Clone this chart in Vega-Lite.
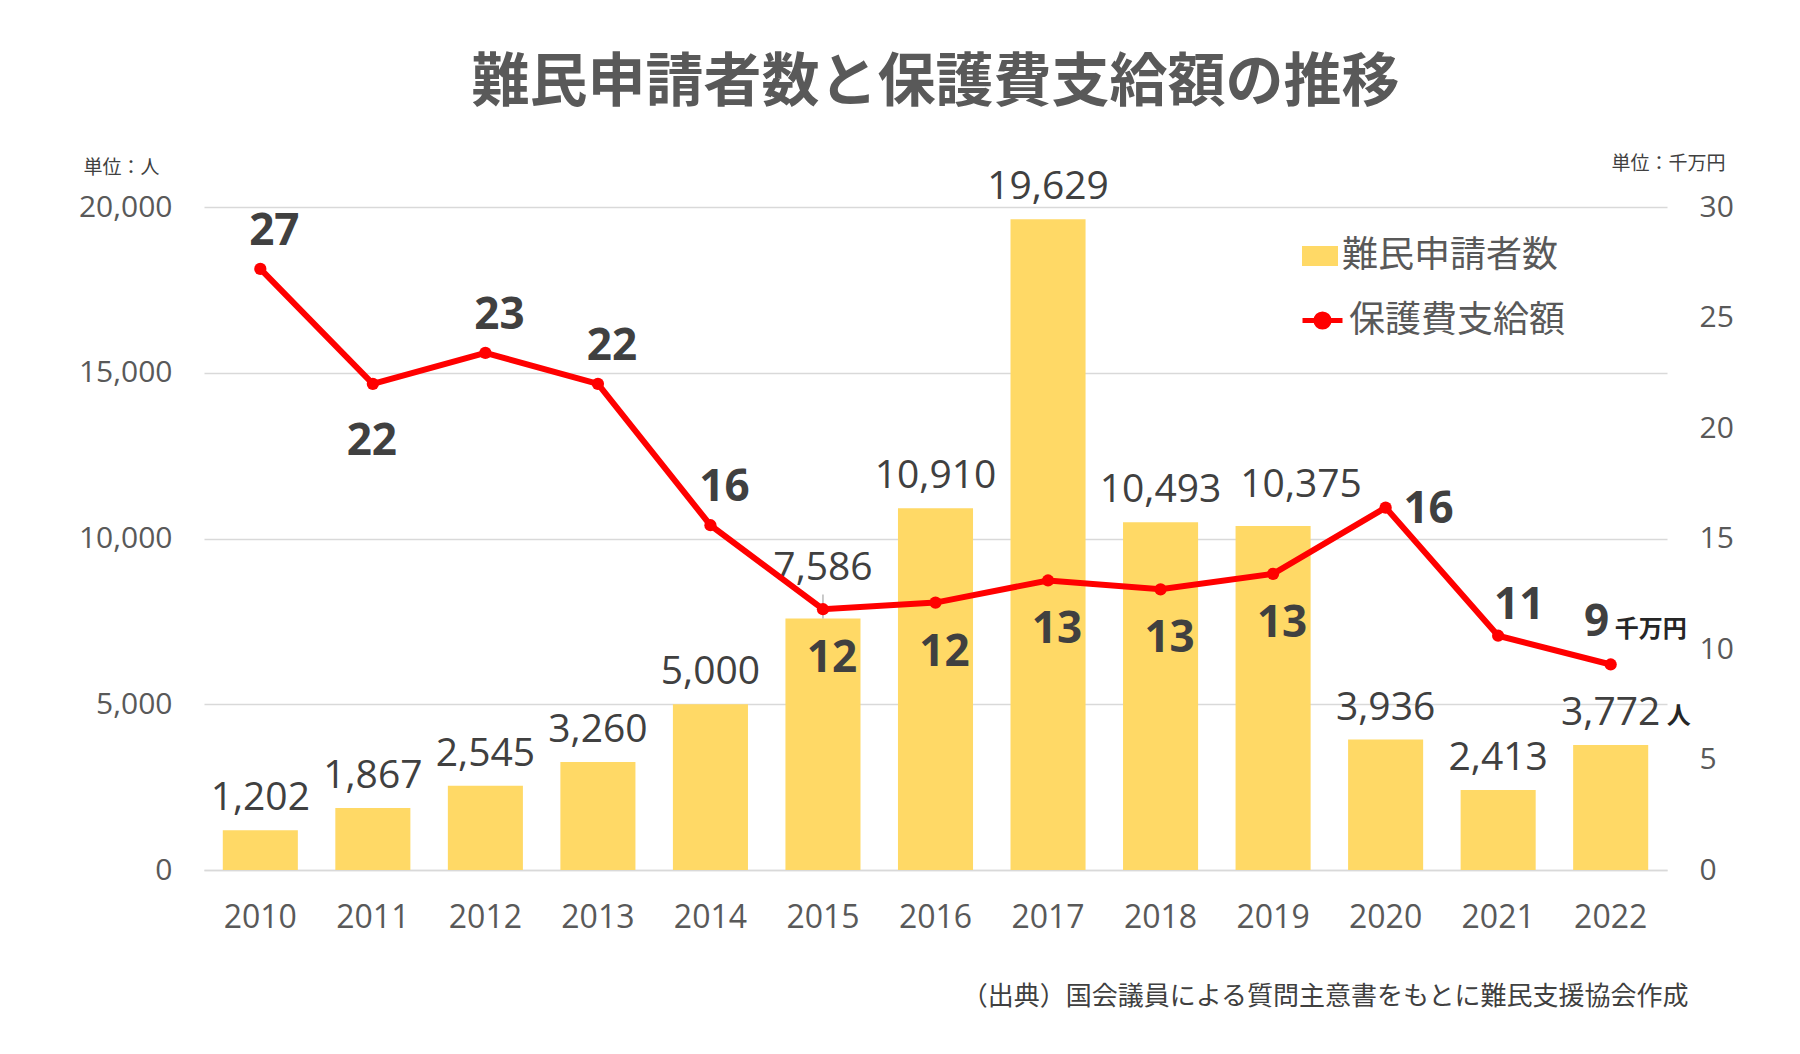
{
  "$schema": "https://vega.github.io/schema/vega-lite/v6.json",
  "width": 1463,
  "height": 663,
  "autosize": {"type": "none"},
  "padding": {"left": 204, "top": 207, "right": 133, "bottom": 184},
  "background": "white",
  "config": {"view": {"stroke": null}, "axis": {"grid": false}},
  "title": {
    "text": "難民申請者数と保護費支給額の推移",
    "font": "Noto Sans CJK JP",
    "fontSize": 58,
    "fontWeight": "bold",
    "color": "#595959",
    "anchor": "middle",
    "frame": "group",
    "offset": 41
  },
  "data": {
    "values": [
      {"year": "2010", "applicants": 1202, "benefit": 27.2},
      {"year": "2011", "applicants": 1867, "benefit": 22.0},
      {"year": "2012", "applicants": 2545, "benefit": 23.4},
      {"year": "2013", "applicants": 3260, "benefit": 22.0},
      {"year": "2014", "applicants": 5000, "benefit": 15.6},
      {"year": "2015", "applicants": 7586, "benefit": 11.8},
      {"year": "2016", "applicants": 10910, "benefit": 12.1},
      {"year": "2017", "applicants": 19629, "benefit": 13.1},
      {"year": "2018", "applicants": 10493, "benefit": 12.7},
      {"year": "2019", "applicants": 10375, "benefit": 13.4},
      {"year": "2020", "applicants": 3936, "benefit": 16.4},
      {"year": "2021", "applicants": 2413, "benefit": 10.6},
      {"year": "2022", "applicants": 3772, "benefit": 9.3}
    ]
  },
  "encoding": {
    "x": {
      "field": "year",
      "type": "ordinal",
      "scale": {"paddingInner": 0.333, "paddingOuter": 0.167},
      "axis": {
        "title": "（出典）国会議員による質問主意書をもとに難民支援協会作成",
        "titleFont": "Noto Sans CJK JP",
        "titleFontSize": 26,
        "titleFontWeight": "normal",
        "titleColor": "#404040",
        "titleAlign": "right",
        "titleAnchor": null,
        "titleX": 1484,
        "titleY": 126,
        "titleBaseline": "middle",
        "labelAngle": 0,
        "labelFont": "Open Sans",
        "labelFontSize": 32,
        "labelColor": "#595959",
        "labelPadding": 32,
        "ticks": false,
        "domainColor": "#D9D9D9",
        "domainWidth": 1.5
      }
    }
  },
  "layer": [
    {
      "encoding": {
        "y": {
          "field": "applicants",
          "type": "quantitative",
          "scale": {"domain": [0, 20000]},
          "axis": {
            "values": [0, 5000, 10000, 15000, 20000],
            "format": ",.0f",
            "grid": true,
            "gridColor": "#D9D9D9",
            "gridWidth": 1.5,
            "domain": false,
            "ticks": false,
            "labelFont": "Open Sans",
            "labelFontSize": 30,
            "labelColor": "#595959",
            "labelPadding": 32,
            "title": "単位：人",
            "titleAngle": 0,
            "titleAlign": "left",
            "titleAnchor": null,
            "titleBaseline": "middle",
            "titleX": -121,
            "titleY": -40,
            "titleFont": "Noto Sans CJK JP",
            "titleFontSize": 19,
            "titleFontWeight": "normal",
            "titleColor": "#404040"
          }
        }
      },
      "layer": [
        {
          "mark": {"type": "bar"},
          "encoding": {
            "fill": {
              "datum": "難民申請者数",
              "scale": {"range": ["#FFD966"]},
              "legend": {
                "orient": "none",
                "legendX": 1098,
                "legendY": 31,
                "title": null,
                "padding": 0,
                "symbolType": "M-1,-0.56H1V0.56H-1Z",
                "symbolSize": 1296,
                "symbolStrokeWidth": 0,
                "labelFont": "Noto Sans CJK JP",
                "labelFontSize": 36,
                "labelColor": "#595959",
                "labelOffset": 4,
                "labelLimit": 500
              }
            }
          }
        },
        {
          "transform": [{"filter": {"not": {"field": "year", "oneOf": ["2015", "2019"]}}}],
          "mark": {"type": "text", "font": "Open Sans", "fontSize": 39, "color": "#404040", "baseline": "middle", "dy": -32},
          "encoding": {"text": {"field": "applicants", "type": "quantitative", "format": ","}}
        },
        {
          "transform": [{"filter": {"field": "year", "equal": "2015"}}],
          "mark": {"type": "text", "font": "Open Sans", "fontSize": 39, "color": "#404040", "baseline": "middle", "dy": -51},
          "encoding": {"text": {"field": "applicants", "type": "quantitative", "format": ","}}
        },
        {
          "transform": [{"filter": {"field": "year", "equal": "2019"}}],
          "mark": {"type": "text", "font": "Open Sans", "fontSize": 39, "color": "#404040", "baseline": "middle", "dy": -41, "dx": 28},
          "encoding": {"text": {"field": "applicants", "type": "quantitative", "format": ","}}
        },
        {
          "transform": [{"filter": {"field": "year", "equal": "2015"}}],
          "mark": {"type": "rule", "color": "#A6A6A6", "strokeWidth": 1.2, "y2Offset": -24},
          "encoding": {"y2": {"field": "applicants"}}
        },
        {
          "transform": [{"filter": {"field": "year", "equal": "2022"}}],
          "mark": {"type": "text", "font": "Noto Sans CJK JP", "fontSize": 24, "fontWeight": "bold", "color": "#262626", "baseline": "middle", "align": "center", "dx": 68, "dy": -28},
          "encoding": {"text": {"value": "人"}}
        }
      ]
    },
    {
      "encoding": {
        "y": {
          "field": "benefit",
          "type": "quantitative",
          "scale": {"domain": [0, 30]},
          "axis": {
            "orient": "right",
            "values": [0, 5, 10, 15, 20, 25, 30],
            "grid": false,
            "domain": false,
            "ticks": false,
            "labelFont": "Open Sans",
            "labelFontSize": 30,
            "labelColor": "#595959",
            "labelPadding": 32,
            "title": "単位：千万円",
            "titleAngle": 0,
            "titleAlign": "right",
            "titleAnchor": null,
            "titleBaseline": "middle",
            "titleX": 58,
            "titleY": -44,
            "titleFont": "Noto Sans CJK JP",
            "titleFontSize": 19,
            "titleFontWeight": "normal",
            "titleColor": "#404040"
          }
        }
      },
      "layer": [
        {
          "mark": {"type": "line", "strokeWidth": 6},
          "encoding": {
            "stroke": {
              "datum": "保護費支給額",
              "scale": {"range": ["#FF0000"]},
              "legend": {
                "orient": "none",
                "legendX": 1096,
                "legendY": 91,
                "title": null,
                "padding": 0,
                "symbolType": "M-1,0H1M-0.33,0A0.33,0.33 0 1,1 0.33,0A0.33,0.33 0 1,1 -0.33,0Z",
                "symbolSize": 1600,
                "symbolStrokeWidth": 5,
                "symbolFillColor": "#FF0000",
                "symbolStrokeColor": "#FF0000",
                "labelFont": "Noto Sans CJK JP",
                "labelFontSize": 36,
                "labelColor": "#595959",
                "labelOffset": 4,
                "labelLimit": 500
              }
            }
          }
        },
        {
          "mark": {"type": "point", "filled": true, "color": "#FF0000", "size": 150, "opacity": 1}
        },
        {
          "transform": [{"filter": {"field": "year", "oneOf": ["2010", "2012", "2013", "2014"]}}],
          "mark": {"type": "text", "font": "Open Sans", "fontSize": 44, "fontWeight": "bold", "color": "#404040", "baseline": "middle", "dy": -37, "dx": 14},
          "encoding": {"text": {"field": "benefit", "type": "quantitative", "format": ".0f"}}
        },
        {
          "transform": [{"filter": {"field": "year", "equal": "2021"}}],
          "mark": {"type": "text", "font": "Open Sans", "fontSize": 44, "fontWeight": "bold", "color": "#404040", "baseline": "middle", "dy": -30, "dx": 21},
          "encoding": {"text": {"field": "benefit", "type": "quantitative", "format": ".0f"}}
        },
        {
          "transform": [{"filter": {"field": "year", "equal": "2011"}}],
          "mark": {"type": "text", "font": "Open Sans", "fontSize": 44, "fontWeight": "bold", "color": "#404040", "baseline": "middle", "dy": 58, "dx": -1},
          "encoding": {"text": {"field": "benefit", "type": "quantitative", "format": ".0f"}}
        },
        {
          "transform": [{"filter": {"field": "year", "oneOf": ["2015", "2016", "2017", "2018", "2019"]}}],
          "mark": {"type": "text", "font": "Open Sans", "fontSize": 44, "fontWeight": "bold", "color": "#404040", "baseline": "middle", "dy": 50, "dx": 9},
          "encoding": {"text": {"field": "benefit", "type": "quantitative", "format": ".0f"}}
        },
        {
          "transform": [{"filter": {"field": "year", "equal": "2020"}}],
          "mark": {"type": "text", "font": "Open Sans", "fontSize": 44, "fontWeight": "bold", "color": "#404040", "baseline": "middle", "dy": 2, "dx": 43},
          "encoding": {"text": {"field": "benefit", "type": "quantitative", "format": ".0f"}}
        },
        {
          "transform": [{"filter": {"field": "year", "equal": "2022"}}],
          "mark": {"type": "text", "font": "Open Sans", "fontSize": 44, "fontWeight": "bold", "color": "#404040", "baseline": "middle", "dy": -41, "dx": -14},
          "encoding": {"text": {"field": "benefit", "type": "quantitative", "format": ".0f"}}
        },
        {
          "transform": [{"filter": {"field": "year", "equal": "2022"}}],
          "mark": {"type": "text", "font": "Noto Sans CJK JP", "fontSize": 24, "fontWeight": "bold", "color": "#262626", "baseline": "middle", "align": "center", "dy": -34, "dx": 40},
          "encoding": {"text": {"value": "千万円"}}
        }
      ]
    }
  ],
  "resolve": {"scale": {"y": "independent"}}
}
